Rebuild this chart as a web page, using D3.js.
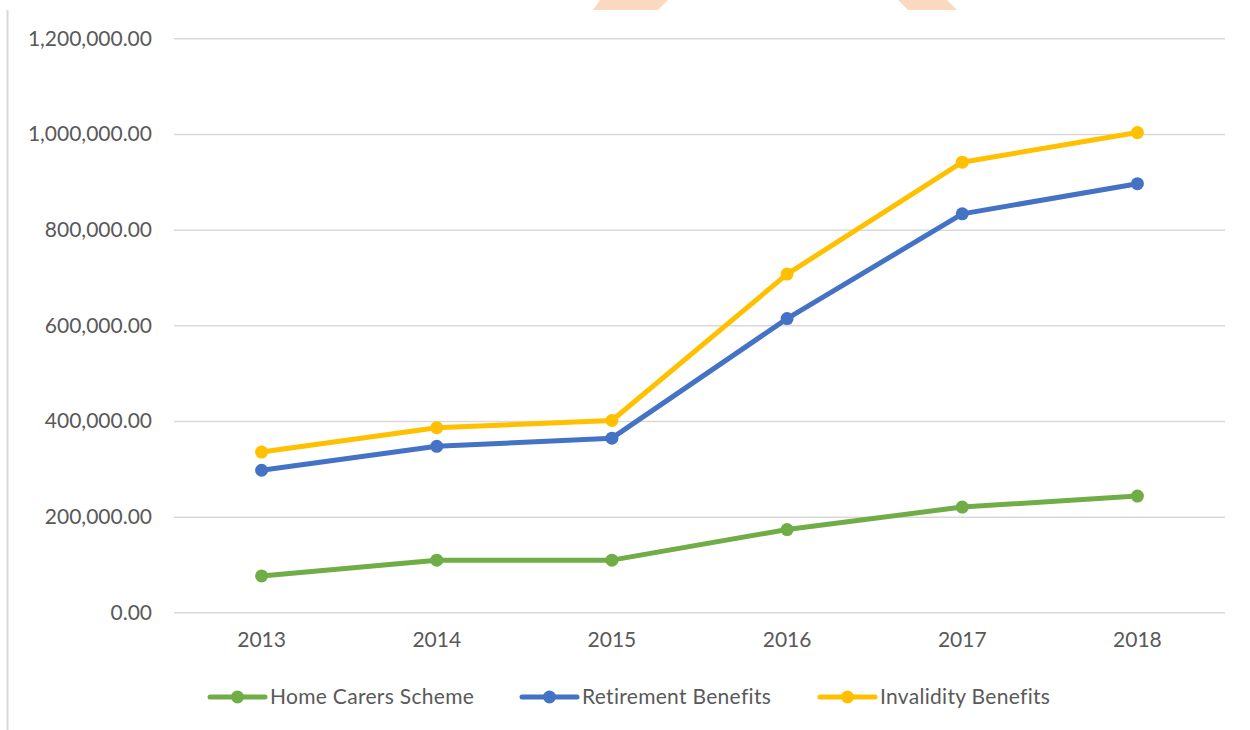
<!DOCTYPE html>
<html>
<head>
<meta charset="utf-8">
<script src="https://cdn.jsdelivr.net/npm/d3@7"></script>
<style>
  body { margin: 0; background: #fff; }
  text { font-family: Lato, "Open Sans", sans-serif; fill: #595959; }
</style>
</head>
<body>
<div id="chart"></div>
<script>
const w = 1250
const h = 730

// --- Data ---
const years = ["2013", "2014", "2015", "2016", "2017", "2018"]
const seriesNames = ["Home Carers Scheme", "Retirement Benefits", "Invalidity Benefits"]
const homeCarers = [76000, 109000, 109000, 173000, 220000, 243000]
const retirement = [297000, 347000, 364000, 614000, 833000, 896000]
const invalidity = [335000, 386000, 401000, 707000, 941000, 1003000]
const yTicks = [0, 200000, 400000, 600000, 800000, 1000000, 1200000]

const colors = ["#70AD47", "#4472C4", "#FFC000"]
const seriesData = [homeCarers, retirement, invalidity]

const svg = d3.select("#chart")
              .append("svg")
                .attr("width", w)
                .attr("height", h)

// faint watermark pieces at the top edge
svg.append("polygon")
    .attr("points", "593,10 600,0 668,0 658,10")
    .attr("fill", "#FBD9C0")
svg.append("polygon")
    .attr("points", "898,0 947,0 957,10 908,10")
    .attr("fill", "#FBD9C0")

// left border
svg.append("line")
    .attr("x1", 7.5).attr("x2", 7.5)
    .attr("y1", 10).attr("y2", h)
    .attr("stroke", "#D9D9D9")
    .attr("stroke-width", 2)

// Scales
const xScale = d3.scaleBand()
                  .domain(years)
                  .range([174, 1225])

const yScale = d3.scaleLinear()
                  .domain([0, 1200000])
                  .range([612.3, 38.3])

const fmt = d3.format(",.2f")

// Gridlines + y labels
const yAxis = svg.append("g")
                  .attr("transform", "translate(174, 0)")
                  .call(d3.axisLeft(yScale)
                          .tickValues(yTicks)
                          .tickFormat(fmt)
                          .tickSize(-1051)
                          .tickPadding(22))
yAxis.select(".domain").remove()
yAxis.selectAll(".tick line")
      .attr("stroke", "#D9D9D9")
      .attr("stroke-width", 1.5)
yAxis.selectAll(".tick text")
      .attr("font-size", 21)
      .attr("font-family", "Lato, 'Open Sans', sans-serif")
      .attr("fill", "#595959")

// X labels
const xAxis = svg.append("g")
                  .attr("transform", "translate(0, 612)")
                  .call(d3.axisBottom(xScale).tickSize(0).tickPadding(20))
xAxis.select(".domain").remove()
xAxis.selectAll(".tick text")
      .attr("font-size", 21)
      .attr("font-family", "Lato, 'Open Sans', sans-serif")
      .attr("fill", "#595959")

const xPos = d => xScale(d) + xScale.bandwidth() / 2

// Lines
const line = d3.line()
                .x((d, i) => xPos(years[i]))
                .y(d => yScale(d))

seriesData.forEach((vals, s) => {
  svg.append("path")
      .datum(vals)
      .attr("d", line)
      .attr("fill", "none")
      .attr("stroke", colors[s])
      .attr("stroke-width", 5)
      .attr("stroke-linejoin", "round")
  svg.append("g")
      .selectAll("circle")
      .data(vals)
      .join("circle")
        .attr("cx", (d, i) => xPos(years[i]))
        .attr("cy", d => yScale(d))
        .attr("r", 6.5)
        .attr("fill", colors[s])
})

// Legend
const legendX = [210, 522, 820]
const legend = svg.append("g")
seriesNames.forEach((name, i) => {
  const g = legend.append("g").attr("transform", `translate(${legendX[i]}, 697)`)
  g.append("line")
    .attr("x1", 0).attr("x2", 55)
    .attr("stroke", colors[i])
    .attr("stroke-width", 5)
    .attr("stroke-linecap", "round")
  g.append("circle")
    .attr("cx", 27.5)
    .attr("r", 6.5)
    .attr("fill", colors[i])
  g.append("text")
    .attr("x", 60)
    .attr("y", 7)
    .attr("font-size", 21)
    .attr("letter-spacing", 0.3)
    .text(name)
})
</script>
</body>
</html>
